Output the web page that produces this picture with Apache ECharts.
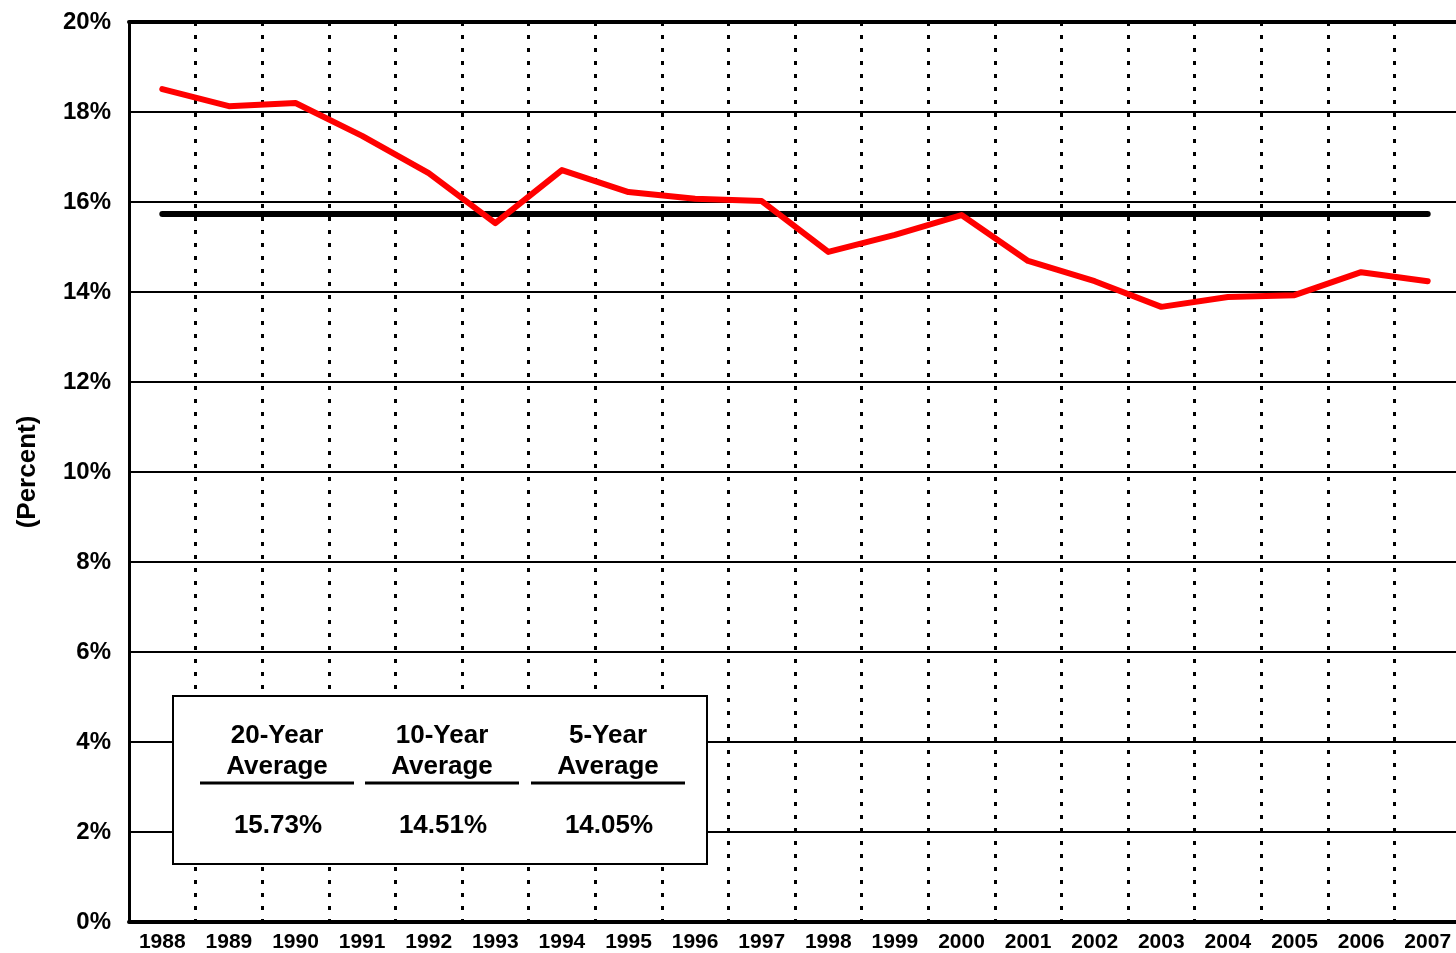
<!DOCTYPE html>
<html>
<head>
<meta charset="utf-8">
<script src="https://cdn.jsdelivr.net/npm/echarts@6/dist/echarts.min.js"></script>
<style>
html,body{margin:0;padding:0;background:#fff;}
#chart{width:1456px;height:953px;}
</style>
</head>
<body>
<div id="chart"></div>
<script>
const years = ['1988','1989','1990','1991','1992','1993','1994','1995','1996','1997','1998','1999','2000','2001','2002','2003','2004','2005','2006','2007'];
const rates = [18.51,18.13,18.20,17.47,16.64,15.53,16.71,16.22,16.07,16.02,14.89,15.27,15.71,14.69,14.24,13.67,13.89,13.93,14.44,14.24];
const avg20 = 15.73;
const avgLabels = ['20-Year', '10-Year', '5-Year'];
const avgValues = ['15.73%', '14.51%', '14.05%'];
const yTicks = [0, 20, 2];

const FONT = "'Liberation Sans', Arial, sans-serif";
const chart = echarts.init(document.getElementById('chart'), null, {renderer: 'canvas'});

const boxX = 173, boxY = 696, boxW = 534, boxH = 168;
const colCenters = [277, 442, 608];
const graphics = [{
  type: 'rect', z: 100,
  shape: {x: boxX, y: boxY, width: boxW, height: boxH},
  style: {fill: '#fff', stroke: '#000', lineWidth: 2}
}];
avgLabels.forEach((lab, i) => {
  const cx = colCenters[i];
  graphics.push({type: 'text', z: 101, x: cx, y: 736,
    style: {text: lab, font: 'bold 26px ' + FONT, fill: '#000', align: 'center', verticalAlign: 'middle'}});
  graphics.push({type: 'text', z: 101, x: cx, y: 767,
    style: {text: 'Average', font: 'bold 26px ' + FONT, fill: '#000', align: 'center', verticalAlign: 'middle'}});
  graphics.push({type: 'line', z: 101,
    shape: {x1: cx - 77, y1: 783, x2: cx + 77, y2: 783},
    style: {stroke: '#000', lineWidth: 3}});
  graphics.push({type: 'text', z: 101, x: cx + 1, y: 826,
    style: {text: avgValues[i], font: 'bold 26px ' + FONT, fill: '#000', align: 'center', verticalAlign: 'middle'}});
});

chart.setOption({
  animation: false,
  backgroundColor: '#fff',
  grid: {left: 129, width: 1332, top: 22, bottom: 31, containLabel: false, outerBoundsMode: 'none'},
  xAxis: [{
    type: 'category',
    data: years,
    boundaryGap: true,
    axisLine: {show: true, lineStyle: {color: '#000', width: 4}},
    axisTick: {show: false},
    axisLabel: {color: '#000', fontFamily: FONT, fontWeight: 'bold', fontSize: 21, margin: 10, interval: 0},
    splitLine: {show: true, interval: 0, lineStyle: {color: '#000', width: 3, type: [4, 9]}}
  }, {
    type: 'category',
    data: years,
    position: 'top',
    axisLine: {show: true, lineStyle: {color: '#000', width: 4}},
    axisTick: {show: false},
    axisLabel: {show: false},
    splitLine: {show: false}
  }],
  yAxis: {
    type: 'value',
    min: yTicks[0], max: yTicks[1], interval: yTicks[2],
    name: '(Percent)',
    nameLocation: 'middle',
    nameRotate: 90,
    nameGap: 88,
    nameTextStyle: {color: '#000', fontFamily: FONT, fontWeight: 'bold', fontSize: 26},
    axisLine: {show: true, lineStyle: {color: '#000', width: 3}},
    axisTick: {show: false},
    axisLabel: {color: '#000', fontFamily: FONT, fontWeight: 'bold', fontSize: 24, margin: 18, formatter: '{value}%'},
    splitLine: {show: true, lineStyle: {color: '#000', width: 2}}
  },
  graphic: graphics,
  series: [{
    name: 'Average',
    type: 'line',
    data: [],
    z: 3,
    markLine: {
      silent: true,
      symbol: ['none', 'none'],
      label: {show: false},
      lineStyle: {color: '#000', width: 6, type: 'solid', cap: 'round'},
      data: [[{coord: [years[0], avg20]}, {coord: [years[years.length - 1], avg20]}]]
    }
  }, {
    name: 'Rate',
    type: 'line',
    data: rates,
    z: 5,
    symbol: 'none',
    lineStyle: {color: '#ff0000', width: 6, cap: 'round', join: 'round'}
  }]
});
</script>
</body>
</html>
